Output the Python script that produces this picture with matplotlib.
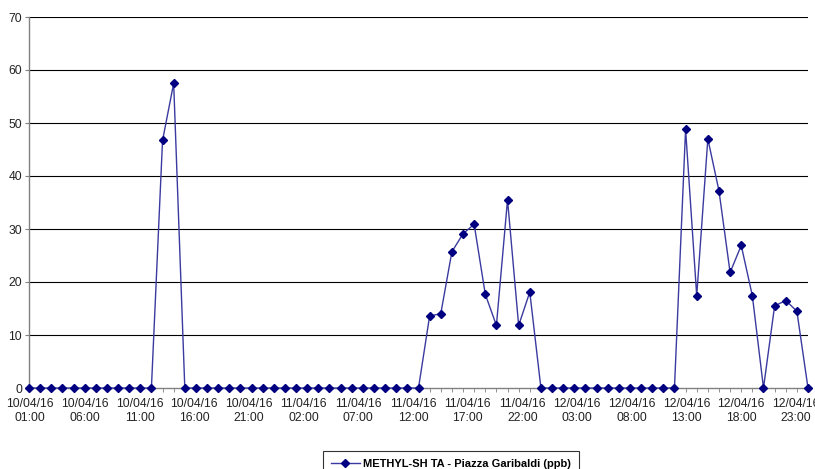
import matplotlib
matplotlib.use("Agg")
import matplotlib.pyplot as plt
import pandas as pd

plt.rcParams["font.family"] = ["Liberation Sans", "DejaVu Sans"]

# hourly readings, 10/04/16 01:00 .. 12/04/16 23:00
times = pd.date_range("2016-04-10 01:00", periods=71, freq="h")
values = (
    [0] * 12 + [46.7, 57.5] + [0] * 22
    + [13.6, 14.0, 25.7, 29.1, 30.9, 17.7, 11.8, 35.5, 11.8, 18.1]
    + [0] * 13
    + [48.8, 17.4, 47.0, 37.2, 21.8, 26.9, 17.4, 0, 15.5, 16.5, 14.5, 0]
)
series_name = "METHYL-SH TA - Piazza Garibaldi (ppb)"
y_ticks = [0, 10, 20, 30, 40, 50, 60, 70]

x = list(range(len(times)))
# the spreadsheet spaces its date labels a little tighter than the points
label_step = 5 * 0.983
tick_labels = [t.strftime("%d/%m/%y\n%H:%M") for t in times[::5]]
tick_pos = [0.1 + i * label_step for i in range(len(tick_labels))]

fig = plt.figure(figsize=(8.15, 4.69), dpi=100)
ax = fig.add_axes([29 / 815, 81 / 469, 779 / 815, 371 / 469])

ax.plot(x, values, color="#3a3aa0", linewidth=1.0, marker="D", markersize=4,
        markerfacecolor="#000080", markeredgecolor="#000080",
        label=series_name, clip_on=False, zorder=3)

ax.set_xlim(0, 70)
ax.set_ylim(0, 70)
ax.set_yticks(y_ticks)
ax.set_xticks(tick_pos)
ax.set_xticklabels(tick_labels, color="#222222")
ax.set_xticks(x, minor=True)
ax.tick_params(axis="x", which="major", length=0, labelsize=8.7, pad=7)
ax.tick_params(axis="x", which="minor", length=3, color="#808080")
ax.tick_params(axis="y", length=3, color="#808080", labelsize=8.7, pad=2,
               labelcolor="#222222")

for y in y_ticks[1:]:
    ax.axhline(y, color="black", linewidth=0.8, zorder=1)

for s in ["top", "right"]:
    ax.spines[s].set_visible(False)
for s in ["left", "bottom"]:
    ax.spines[s].set_color("#808080")
    ax.spines[s].set_linewidth(1.0)

# legend box runs off the bottom edge, as in the original export
leg = fig.legend(loc="upper center", bbox_to_anchor=(451 / 815, 18 / 469),
                 borderaxespad=0, frameon=True, fancybox=False,
                 edgecolor="black", prop={"size": 8, "weight": "bold"},
                 borderpad=0.7, handlelength=2.6, handletextpad=0.3)
leg.get_frame().set_linewidth(0.8)

fig.savefig("out.png", dpi=100)
